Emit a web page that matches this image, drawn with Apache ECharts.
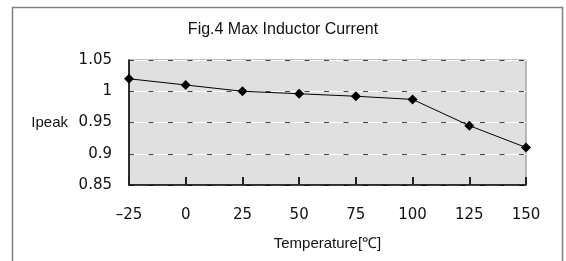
<!DOCTYPE html>
<html>
<head>
<meta charset="utf-8">
<script src="https://cdn.jsdelivr.net/npm/echarts@6/dist/echarts.min.js"></script>
<style>
html,body{margin:0;padding:0;background:#fff;}
#c{width:566px;height:261px;}
</style>
</head>
<body>
<div id="c"></div>
<script>
const temperatures = [-25, 0, 25, 50, 75, 100, 125, 150];
const ipeak = [1.02, 1.01, 1.0, 0.996, 0.992, 0.987, 0.945, 0.91];
const titleText = 'Fig.4 Max Inductor Current';
const xName = 'Temperature[℃]';
const yName = 'Ipeak';

const TFONT = 'Liberation Sans';
const NFONT = 'DejaVu Sans';
const Y_MIN = 0.85, Y_MAX = 1.05;
const chart = echarts.init(document.getElementById('c'), null, {renderer: 'canvas'});
const points = temperatures.map((t, i) => [t, ipeak[i]]);

chart.setOption({
  animation: false,
  backgroundColor: '#fff',
  graphic: [{
    type: 'rect', z: -10, silent: true,
    shape: {x: 12.5, y: 7.5, width: 550, height: 270},
    style: {fill: '#fff', stroke: '#808080', lineWidth: 1.5}
  }],
  title: {
    text: titleText, left: 'center', top: 17,
    textStyle: {fontFamily: TFONT, fontSize: 16, fontWeight: 'normal', color: '#111'}
  },
  grid: {
    left: 129, right: 40, top: 60, bottom: 76,
    show: true, backgroundColor: '#e0e0e0', borderColor: '#808080', borderWidth: 1
  },
  xAxis: {
    type: 'value', min: -25, max: 150, interval: 25,
    name: xName, nameLocation: 'middle', nameGap: 51,
    nameTextStyle: {fontFamily: TFONT, fontSize: 15, color: '#111'},
    axisLine: {show: true, onZero: false, lineStyle: {color: '#000', width: 1.5}},
    axisTick: {show: true, inside: true, length: 8, alignWithLabel: true,
      lineStyle: {color: '#222', width: 2}},
    axisLabel: {fontFamily: NFONT, fontSize: 15, color: '#111', margin: 23,
      formatter: v => (v < 0 ? '\u2013' + Math.abs(v) : String(v))},
    splitLine: {show: false},
    z: 10
  },
  yAxis: [{
    type: 'value', min: Y_MIN, max: Y_MAX, interval: 0.05,
    name: yName, nameLocation: 'middle', nameRotate: 0, nameGap: 61,
    nameTextStyle: {fontFamily: TFONT, fontSize: 15, color: '#111'},
    axisLine: {show: true, onZero: false, lineStyle: {color: '#000', width: 1.5}},
    axisTick: {show: false},
    axisLabel: {fontFamily: NFONT, fontSize: 15, color: '#111', margin: 17},
    splitLine: {show: true, lineStyle: {color: '#fff', width: 1}}
  }, {
    type: 'value', min: Y_MIN, max: Y_MAX, interval: 0.05, position: 'left',
    axisLine: {show: false, onZero: false}, axisTick: {show: false}, axisLabel: {show: false},
    splitLine: {show: true, lineStyle: {color: '#444', width: 1, type: [5, 14.5]}}
  }],
  series: [{
    type: 'line', data: points, yAxisIndex: 0,
    symbol: 'diamond', symbolSize: 10,
    lineStyle: {color: '#000', width: 1},
    itemStyle: {color: '#000'}
  }]
});
</script>
</body>
</html>
